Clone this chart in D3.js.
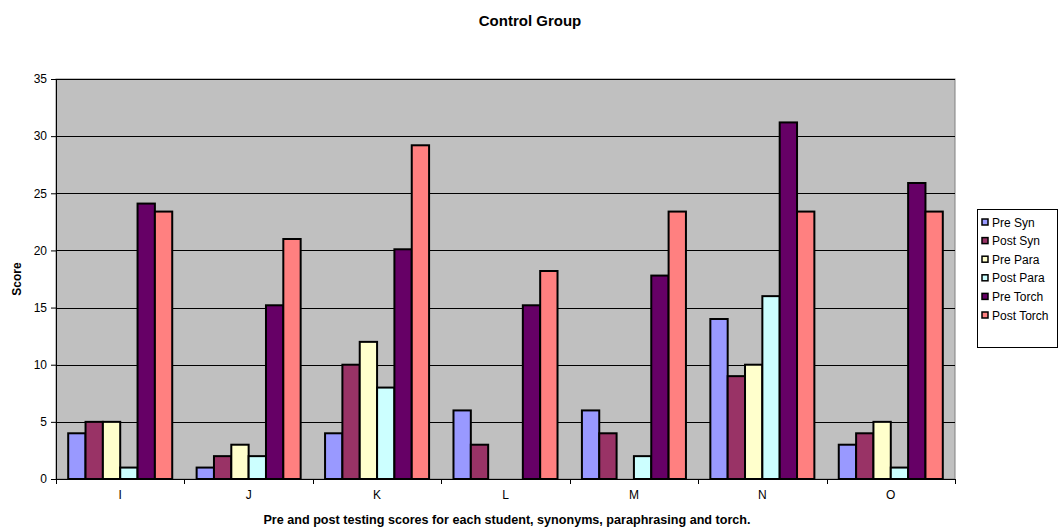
<!DOCTYPE html>
<html>
<head>
<meta charset="utf-8">
<script src="https://cdn.jsdelivr.net/npm/d3@7"></script>
<style>
  body { margin: 0; background: #fff; }
  svg { display: block; font-family: "Liberation Sans", Arial, sans-serif; }
</style>
</head>
<body>
<svg id="chart" width="1059" height="530"></svg>
<script>
// Students on the x axis
const students = ["I", "J", "K", "L", "M", "N", "O"];

// Test series
const seriesNames = ["Pre Syn", "Post Syn", "Pre Para", "Post Para", "Pre Torch", "Post Torch"];
const seriesColors = ["#9999FF", "#993366", "#FFFFCC", "#CCFFFF", "#660066", "#FF8080"];

// Scores per series, one value per student (I..O)
const preSyn    = [4, 1, 4, 6, 6, 14, 3];
const postSyn   = [5, 2, 10, 3, 4, 9, 4];
const prePara   = [5, 3, 12, 0, 0, 10, 5];
const postPara  = [1, 2, 8, 0, 2, 16, 1];
const preTorch  = [24.1, 15.2, 20.1, 15.2, 17.8, 31.2, 25.9];
const postTorch = [23.4, 21.0, 29.2, 18.2, 23.4, 23.4, 23.4];

const yTicks = [0, 5, 10, 15, 20, 25, 30, 35];

const seriesValues = [preSyn, postSyn, prePara, postPara, preTorch, postTorch];

const svg = d3.select("#chart");
const plot = { left: 56, right: 955, top: 79, bottom: 479 };

const x = d3.scaleBand()
  .domain(students)
  .range([plot.left, plot.right])
  .paddingInner(0.19)
  .paddingOuter(0.095);

const x1 = d3.scaleBand()
  .domain(seriesNames)
  .range([0, x.bandwidth()]);

const y = d3.scaleLinear()
  .domain([0, 35])
  .range([plot.bottom, plot.top]);

// Plot background
svg.append("rect")
  .attr("x", plot.left).attr("y", plot.top)
  .attr("width", plot.right - plot.left)
  .attr("height", plot.bottom - plot.top)
  .attr("fill", "#C0C0C0")
  .attr("stroke", "#808080")
  .attr("stroke-width", 1);

// Horizontal gridlines
svg.append("g")
  .selectAll("line")
  .data(yTicks.filter(d => d > 0))
  .join("line")
  .attr("x1", plot.left).attr("x2", plot.right)
  .attr("y1", d => Math.round(y(d)) + 0.5)
  .attr("y2", d => Math.round(y(d)) + 0.5)
  .attr("stroke", "#000")
  .attr("stroke-width", 1);

// Bars
const groups = svg.append("g")
  .selectAll("g")
  .data(students.map((s, i) => ({ s, vals: seriesValues.map((arr, k) => ({ name: seriesNames[k], color: seriesColors[k], v: arr[i] })) })))
  .join("g")
  .attr("transform", d => `translate(${x(d.s)},0)`);

groups.selectAll("rect")
  .data(d => d.vals.filter(v => v.v > 0))
  .join("rect")
  .attr("x", d => x1(d.name))
  .attr("y", d => y(d.v))
  .attr("width", x1.bandwidth())
  .attr("height", d => y(0) - y(d.v))
  .attr("fill", d => d.color)
  .attr("stroke", "#000")
  .attr("stroke-width", 2);

// Y axis
const yAxis = svg.append("g")
  .attr("transform", `translate(${plot.left},0)`)
  .call(d3.axisLeft(y).tickValues(yTicks).tickSize(5).tickPadding(4).tickSizeOuter(0));
yAxis.select(".domain").attr("stroke", "#000");
yAxis.selectAll("text").attr("font-size", 12).attr("fill", "#000")
  .style("font-family", "'Liberation Sans', Arial, sans-serif");

// X axis with ticks at category boundaries
const xAxis = svg.append("g")
  .attr("transform", `translate(0,${plot.bottom})`);
xAxis.append("line")
  .attr("x1", plot.left).attr("x2", plot.right)
  .attr("y1", 0.5).attr("y2", 0.5)
  .attr("stroke", "#000");
const step = x.step();
xAxis.selectAll("line.tick")
  .data(d3.range(students.length + 1))
  .join("line")
  .attr("class", "tick")
  .attr("x1", i => Math.round(plot.left + i * step) + 0.5)
  .attr("x2", i => Math.round(plot.left + i * step) + 0.5)
  .attr("y1", 0).attr("y2", 5)
  .attr("stroke", "#000");
xAxis.selectAll("text")
  .data(students)
  .join("text")
  .attr("x", d => x(d) + x.bandwidth() / 2)
  .attr("y", 20)
  .attr("text-anchor", "middle")
  .attr("font-size", 12)
  .text(d => d);

// Titles
svg.append("text")
  .attr("x", 530).attr("y", 26)
  .attr("text-anchor", "middle")
  .attr("font-size", 15).attr("font-weight", "bold")
  .text("Control Group");

svg.append("text")
  .attr("x", 507).attr("y", 524)
  .attr("text-anchor", "middle")
  .attr("font-size", 12.6).attr("font-weight", "bold")
  .text("Pre and post testing scores for each student, synonyms, paraphrasing and torch.");

svg.append("text")
  .attr("transform", "translate(21,279) rotate(-90)")
  .attr("text-anchor", "middle")
  .attr("font-size", 12).attr("font-weight", "bold")
  .text("Score");

// Legend
const legend = svg.append("g").attr("transform", "translate(977,209)");
legend.append("rect")
  .attr("x", 0.5).attr("y", 0.5)
  .attr("width", 80).attr("height", 138)
  .attr("fill", "#fff").attr("stroke", "#000");
const items = legend.selectAll("g.item")
  .data(seriesNames)
  .join("g")
  .attr("class", "item")
  .attr("transform", (d, i) => `translate(5,${14 + i * 18.6})`);
items.append("rect")
  .attr("x", 0).attr("y", -4)
  .attr("width", 6).attr("height", 6)
  .attr("fill", (d, i) => seriesColors[i])
  .attr("stroke", "#000").attr("stroke-width", 1.5);
items.append("text")
  .attr("x", 10).attr("y", 3.5)
  .attr("font-size", 12)
  .text(d => d);
</script>
</body>
</html>
